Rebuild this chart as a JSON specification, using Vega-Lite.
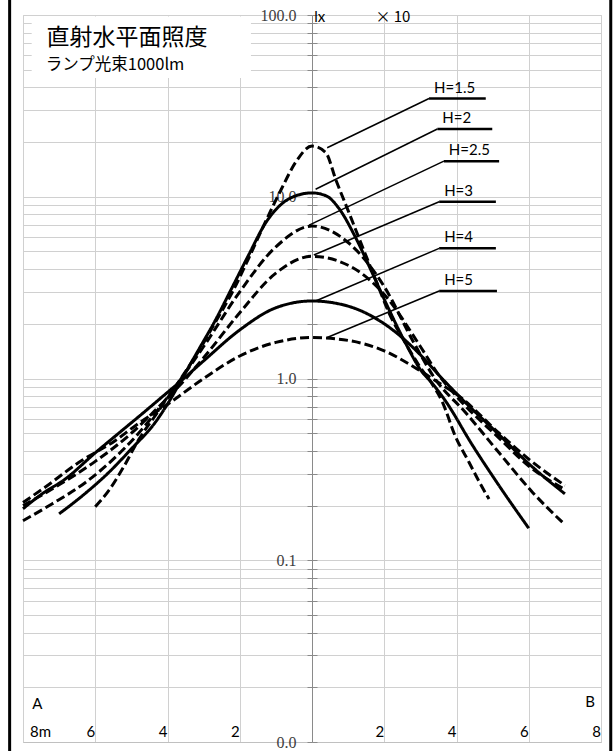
{
  "$schema": "https://vega.github.io/schema/vega-lite/v6.json",
  "width": 578,
  "height": 727,
  "autosize": {"type": "none"},
  "padding": {"left": 23, "top": 15, "right": 14, "bottom": 9},
  "background": "white",
  "config": {
    "view": {"stroke": "#cccccc", "strokeWidth": 1},
    "axis": {"labelOverlap": false, "labelBound": false, "title": null}
  },
  "datasets": {
    "curves": [
      {"H": "1.5", "d": -6, "lux": 0.197}, {"H": "1.5", "d": -5.6, "lux": 0.246}, {"H": "1.5", "d": -5.2, "lux": 0.33}, {"H": "1.5", "d": -4.8, "lux": 0.46}, {"H": "1.5", "d": -4.35, "lux": 0.62}, {"H": "1.5", "d": -4, "lux": 0.78}, {"H": "1.5", "d": -3.6, "lux": 1.02}, {"H": "1.5", "d": -3.2, "lux": 1.35}, {"H": "1.5", "d": -2.7, "lux": 2.0}, {"H": "1.5", "d": -2.2, "lux": 3.0}, {"H": "1.5", "d": -1.75, "lux": 4.6}, {"H": "1.5", "d": -1.3, "lux": 7.2}, {"H": "1.5", "d": -0.85, "lux": 11}, {"H": "1.5", "d": -0.45, "lux": 15.5}, {"H": "1.5", "d": 0, "lux": 19}, {"H": "1.5", "d": 0.38, "lux": 17.5}, {"H": "1.5", "d": 0.66, "lux": 12.4}, {"H": "1.5", "d": 1.02, "lux": 8.2}, {"H": "1.5", "d": 1.38, "lux": 5.4}, {"H": "1.5", "d": 1.76, "lux": 3.5}, {"H": "1.5", "d": 2.13, "lux": 2.3}, {"H": "1.5", "d": 2.6, "lux": 1.55}, {"H": "1.5", "d": 3.0, "lux": 1.15}, {"H": "1.5", "d": 3.3, "lux": 0.95}, {"H": "1.5", "d": 3.6, "lux": 0.75}, {"H": "1.5", "d": 3.97, "lux": 0.48}, {"H": "1.5", "d": 4.35, "lux": 0.345}, {"H": "1.5", "d": 4.63, "lux": 0.27}, {"H": "1.5", "d": 4.9, "lux": 0.217},
      {"H": "2", "d": -7, "lux": 0.18}, {"H": "2", "d": -6.36, "lux": 0.226}, {"H": "2", "d": -5.62, "lux": 0.305}, {"H": "2", "d": -5, "lux": 0.41}, {"H": "2", "d": -4.34, "lux": 0.573}, {"H": "2", "d": -3.9, "lux": 0.78}, {"H": "2", "d": -3.5, "lux": 1.08}, {"H": "2", "d": -3.13, "lux": 1.45}, {"H": "2", "d": -2.67, "lux": 2.1}, {"H": "2", "d": -2.2, "lux": 3.2}, {"H": "2", "d": -1.75, "lux": 4.8}, {"H": "2", "d": -1.28, "lux": 7.2}, {"H": "2", "d": -0.82, "lux": 9.2}, {"H": "2", "d": -0.4, "lux": 10.2}, {"H": "2", "d": 0, "lux": 10.5}, {"H": "2", "d": 0.4, "lux": 10.1}, {"H": "2", "d": 0.75, "lux": 8.6}, {"H": "2", "d": 1.2, "lux": 6.0}, {"H": "2", "d": 1.67, "lux": 3.8}, {"H": "2", "d": 2.13, "lux": 2.4}, {"H": "2", "d": 2.6, "lux": 1.55}, {"H": "2", "d": 3.0, "lux": 1.12}, {"H": "2", "d": 3.35, "lux": 0.93}, {"H": "2", "d": 3.7, "lux": 0.75}, {"H": "2", "d": 4.44, "lux": 0.43}, {"H": "2", "d": 5.18, "lux": 0.257}, {"H": "2", "d": 6, "lux": 0.15},
      {"H": "2.5", "d": -8, "lux": 0.165}, {"H": "2.5", "d": -7.2, "lux": 0.204}, {"H": "2.5", "d": -6.27, "lux": 0.268}, {"H": "2.5", "d": -5.5, "lux": 0.36}, {"H": "2.5", "d": -4.8, "lux": 0.5}, {"H": "2.5", "d": -4.2, "lux": 0.7}, {"H": "2.5", "d": -3.7, "lux": 0.95}, {"H": "2.5", "d": -3, "lux": 1.5}, {"H": "2.5", "d": -2, "lux": 3.0}, {"H": "2.5", "d": -1, "lux": 5.3}, {"H": "2.5", "d": 0, "lux": 6.9}, {"H": "2.5", "d": 1, "lux": 5.6}, {"H": "2.5", "d": 2, "lux": 3.2}, {"H": "2.5", "d": 2.8, "lux": 1.6}, {"H": "2.5", "d": 3.4, "lux": 1.0}, {"H": "2.5", "d": 4.25, "lux": 0.65}, {"H": "2.5", "d": 5.18, "lux": 0.39}, {"H": "2.5", "d": 6.1, "lux": 0.237}, {"H": "2.5", "d": 7, "lux": 0.157},
      {"H": "3", "d": -8, "lux": 0.2}, {"H": "3", "d": -7, "lux": 0.26}, {"H": "3", "d": -6, "lux": 0.35}, {"H": "3", "d": -5, "lux": 0.5}, {"H": "3", "d": -4.3, "lux": 0.68}, {"H": "3", "d": -3.7, "lux": 0.9}, {"H": "3", "d": -3, "lux": 1.3}, {"H": "3", "d": -2, "lux": 2.3}, {"H": "3", "d": -1, "lux": 3.8}, {"H": "3", "d": 0, "lux": 4.7}, {"H": "3", "d": 1, "lux": 4.2}, {"H": "3", "d": 2, "lux": 2.9}, {"H": "3", "d": 3, "lux": 1.5}, {"H": "3", "d": 3.5, "lux": 1.05}, {"H": "3", "d": 4.07, "lux": 0.77}, {"H": "3", "d": 5.18, "lux": 0.47}, {"H": "3", "d": 6, "lux": 0.33}, {"H": "3", "d": 7, "lux": 0.245},
      {"H": "4", "d": -8, "lux": 0.192}, {"H": "4", "d": -7.47, "lux": 0.232}, {"H": "4", "d": -6.83, "lux": 0.28}, {"H": "4", "d": -6, "lux": 0.39}, {"H": "4", "d": -5.35, "lux": 0.5}, {"H": "4", "d": -4.7, "lux": 0.64}, {"H": "4", "d": -4.06, "lux": 0.82}, {"H": "4", "d": -3.6, "lux": 0.98}, {"H": "4", "d": -3, "lux": 1.25}, {"H": "4", "d": -2, "lux": 1.85}, {"H": "4", "d": -1, "lux": 2.45}, {"H": "4", "d": 0, "lux": 2.67}, {"H": "4", "d": 1, "lux": 2.5}, {"H": "4", "d": 2, "lux": 2.0}, {"H": "4", "d": 3, "lux": 1.35}, {"H": "4", "d": 3.5, "lux": 1.05}, {"H": "4", "d": 4.07, "lux": 0.8}, {"H": "4", "d": 5.18, "lux": 0.49}, {"H": "4", "d": 6, "lux": 0.34}, {"H": "4", "d": 7, "lux": 0.232},
      {"H": "5", "d": -8, "lux": 0.208}, {"H": "5", "d": -7.38, "lux": 0.253}, {"H": "5", "d": -6.46, "lux": 0.345}, {"H": "5", "d": -5.45, "lux": 0.455}, {"H": "5", "d": -4.89, "lux": 0.55}, {"H": "5", "d": -4, "lux": 0.72}, {"H": "5", "d": -3, "lux": 1.0}, {"H": "5", "d": -2, "lux": 1.33}, {"H": "5", "d": -1, "lux": 1.58}, {"H": "5", "d": 0, "lux": 1.68}, {"H": "5", "d": 1, "lux": 1.62}, {"H": "5", "d": 2, "lux": 1.42}, {"H": "5", "d": 3, "lux": 1.1}, {"H": "5", "d": 3.5, "lux": 0.95}, {"H": "5", "d": 4.07, "lux": 0.8}, {"H": "5", "d": 5.18, "lux": 0.5}, {"H": "5", "d": 6, "lux": 0.36}, {"H": "5", "d": 7, "lux": 0.258}
    ],
    "leaders": [
      {"label": "H=1.5", "tipd": 0.42, "tipv": 18.6, "eld": 3.24, "elv": 34.7, "endd": 4.81},
      {"label": "H=2", "tipd": 0.1, "tipv": 11.0, "eld": 3.47, "elv": 23.6, "endd": 4.99},
      {"label": "H=2.5", "tipd": -0.08, "tipv": 6.98, "eld": 3.65, "elv": 15.7, "endd": 5.18},
      {"label": "H=3", "tipd": 0.05, "tipv": 4.78, "eld": 3.52, "elv": 9.39, "endd": 5.09},
      {"label": "H=4", "tipd": 0.1, "tipv": 2.67, "eld": 3.52, "elv": 5.2, "endd": 5.09},
      {"label": "H=5", "tipd": 0.42, "tipv": 1.68, "eld": 3.52, "elv": 3.03, "endd": 5.12}
    ],
    "ends": [
      {"t": "A", "d": -7.6, "v": 0.0162},
      {"t": "B", "d": 7.7, "v": 0.0166}
    ]
  },
  "layer": [
    {
      "data": {"name": "curves"},
      "mark": {"type": "line", "interpolate": "monotone", "color": "black"},
      "encoding": {
        "x": {
          "field": "d", "type": "quantitative",
          "scale": {"domain": [-8, 8], "nice": false, "zero": false},
          "axis": {
            "values": [-8, -7, -6, -5, -4, -3, -2, -1, 0, 1, 2, 3, 4, 5, 6, 7, 8],
            "grid": true,
            "gridColor": {"condition": {"test": "datum.value === 0", "value": "#8a8a8a"}, "value": "#d0d0d0"},
            "gridWidth": 1,
            "ticks": false,
            "domainColor": "#c0c0c0",
            "labelExpr": "datum.value === -8 ? '8m' : (datum.value !== 0 && abs(datum.value) % 2 === 0 ? format(abs(datum.value), 'd') : '')",
            "labelPadding": -11,
            "labelBaseline": "middle",
            "labelAlign": "center",
            "labelOffset": {"condition": {"test": "datum.value === -8", "value": 17}, "value": -5},
            "labelFont": "Lato",
            "labelFontSize": 15,
            "labelColor": "#000000",
            "labelFlush": false
          }
        },
        "y": {
          "field": "lux", "type": "quantitative",
          "scale": {"type": "log", "domain": [0.01, 100], "nice": false},
          "axis": {
            "orient": "left",
            "offset": -289,
            "values": [0.01, 0.02, 0.03, 0.04, 0.05, 0.06, 0.07, 0.08, 0.09, 0.1, 0.2, 0.3, 0.4, 0.5, 0.6, 0.7, 0.8, 0.9, 1, 2, 3, 4, 5, 6, 7, 8, 9, 10, 20, 30, 40, 50, 60, 70, 80, 90, 100],
            "grid": true,
            "gridColor": "#d0d0d0",
            "gridWidth": 1,
            "domainColor": "#8a8a8a",
            "tickColor": "#8a8a8a",
            "tickSize": 5,
            "labelExpr": "abs(log(datum.value) / LN10 - round(log(datum.value) / LN10)) < 0.000001 ? format(datum.value, '.1f') : ''",
            "labelPadding": 11,
            "labelFont": "Liberation Serif",
            "labelFontSize": 16,
            "labelColor": "#404040"
          }
        },
        "detail": {"field": "H", "type": "nominal"},
        "strokeDash": {"field": "H", "type": "nominal", "scale": {"domain": ["1.5", "2", "2.5", "3", "4", "5"], "range": [[9, 4], [1, 0], [9, 4], [9, 4], [1, 0], [9, 4]]}, "legend": null},
        "strokeWidth": {"field": "H", "type": "nominal", "scale": {"domain": ["1.5", "2", "2.5", "3", "4", "5"], "range": [3, 3, 3, 3, 2.3, 3]}, "legend": null}
      }
    },
    {
      "data": {"values": [{}]},
      "mark": {"type": "rule", "strokeOpacity": 0},
      "encoding": {
        "x": {"datum": 0, "type": "quantitative"},
        "y": {
          "datum": 1, "type": "quantitative",
          "axis": {
            "orient": "right",
            "offset": -289,
            "values": [0.01, 0.02, 0.03, 0.04, 0.05, 0.06, 0.07, 0.08, 0.09, 0.1, 0.2, 0.3, 0.4, 0.5, 0.6, 0.7, 0.8, 0.9, 1, 2, 3, 4, 5, 6, 7, 8, 9, 10, 20, 30, 40, 50, 60, 70, 80, 90, 100],
            "grid": false,
            "labels": false,
            "domain": false,
            "tickColor": "#8a8a8a",
            "tickSize": 5
          }
        }
      }
    },
    {
      "data": {"values": [{}]},
      "mark": {"type": "rect", "fill": "white"},
      "encoding": {
        "x": {"datum": -7.76, "type": "quantitative"},
        "x2": {"datum": -1.69},
        "y": {"datum": 98, "type": "quantitative", "axis": null},
        "y2": {"datum": 45}
      }
    },
    {
      "data": {"values": [{}]},
      "mark": {"type": "text", "text": "直射水平面照度", "font": "Noto Sans CJK JP", "fontSize": 23, "align": "left", "baseline": "middle", "color": "black"},
      "encoding": {"x": {"datum": -7.35, "type": "quantitative"}, "y": {"datum": 75, "type": "quantitative", "axis": null}}
    },
    {
      "data": {"values": [{}]},
      "mark": {"type": "text", "text": "ランプ光束1000lm", "font": "Noto Sans CJK JP", "fontSize": 16.5, "align": "left", "baseline": "middle", "color": "black"},
      "encoding": {"x": {"datum": -7.37, "type": "quantitative"}, "y": {"datum": 53, "type": "quantitative", "axis": null}}
    },
    {
      "data": {"values": [{}]},
      "mark": {"type": "text", "text": "lx", "font": "Lato", "fontSize": 15, "align": "left", "baseline": "middle", "color": "black"},
      "encoding": {"x": {"datum": 0.06, "type": "quantitative"}, "y": {"datum": 97, "type": "quantitative", "axis": null}}
    },
    {
      "data": {"values": [{}]},
      "mark": {"type": "text", "text": "× 10", "font": "Noto Sans CJK JP", "fontSize": 15, "align": "center", "baseline": "middle", "color": "black"},
      "encoding": {"x": {"datum": 2.24, "type": "quantitative"}, "y": {"datum": 98, "type": "quantitative", "axis": null}}
    },
    {
      "data": {"name": "ends"},
      "mark": {"type": "text", "font": "Lato", "fontSize": 15, "align": "center", "baseline": "middle", "color": "black"},
      "encoding": {"x": {"field": "d", "type": "quantitative"}, "y": {"field": "v", "type": "quantitative", "axis": null}, "text": {"field": "t"}}
    },
    {
      "data": {"name": "leaders"},
      "mark": {"type": "rule", "color": "black", "strokeWidth": 1.5},
      "encoding": {
        "x": {"field": "tipd", "type": "quantitative"},
        "x2": {"field": "eld"},
        "y": {"field": "tipv", "type": "quantitative", "axis": null},
        "y2": {"field": "elv"}
      }
    },
    {
      "data": {"name": "leaders"},
      "mark": {"type": "rule", "color": "black", "strokeWidth": 2.5},
      "encoding": {
        "x": {"field": "eld", "type": "quantitative"},
        "x2": {"field": "endd"},
        "y": {"field": "elv", "type": "quantitative", "axis": null}
      }
    },
    {
      "data": {"name": "leaders"},
      "mark": {"type": "text", "font": "Lato", "fontSize": 15, "align": "left", "baseline": "bottom", "dx": 5, "dy": -3, "color": "black"},
      "encoding": {
        "x": {"field": "eld", "type": "quantitative"},
        "y": {"field": "elv", "type": "quantitative", "axis": null},
        "text": {"field": "label"}
      }
    },
    {
      "data": {"values": [{}]},
      "mark": {"type": "rule", "color": "black", "strokeWidth": 3, "clip": false},
      "encoding": {
        "x": {"datum": -8.37, "type": "quantitative"},
        "y": {"datum": 125, "type": "quantitative", "axis": null},
        "y2": {"datum": 0.0088}
      }
    },
    {
      "data": {"values": [{}]},
      "mark": {"type": "rule", "color": "black", "strokeWidth": 3, "clip": false},
      "encoding": {
        "x": {"datum": 8.27, "type": "quantitative"},
        "y": {"datum": 125, "type": "quantitative", "axis": null},
        "y2": {"datum": 0.0088}
      }
    }
  ],
  "resolve": {"axis": {"y": "independent"}}
}
